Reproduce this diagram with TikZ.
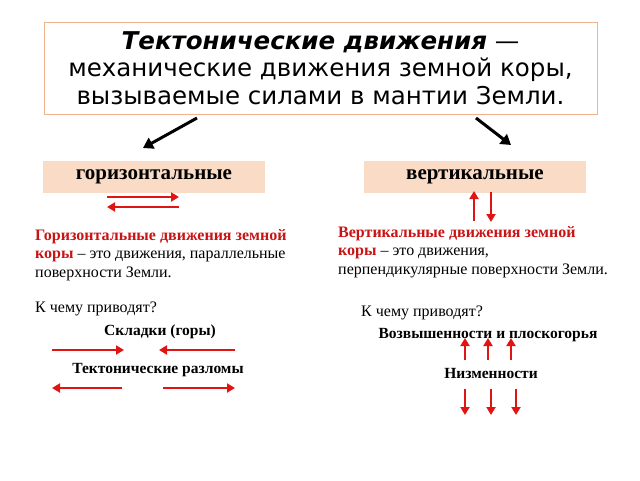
\documentclass[tikz,border=0pt]{standalone}
\usepackage{fontspec}
\setmainfont{Liberation Serif}
\newfontfamily\titlefont{DejaVu Sans}
\usetikzlibrary{positioning, arrows.meta}
\definecolor{peach}{RGB}{250,220,198}
\definecolor{frameor}{RGB}{240,180,140}
\definecolor{redarr}{RGB}{225,20,20}
\definecolor{redtext}{RGB}{200,20,20}
\begin{document}
\begin{tikzpicture}[x=1pt, y=-1pt,
	kind/.style={rectangle, fill=peach, minimum width=222pt, minimum height=32pt, font=\fontsize{21}{24}\selectfont\bfseries},
	body/.style={anchor=north west, align=left, inner sep=0pt, font=\fontsize{16}{18.5}\selectfont},
	result/.style={font=\fontsize{15.5}{18}\selectfont\bfseries},
	redarrow/.style={draw=redarr, line width=2.6pt, -{Triangle[length=8pt, width=9pt]}},
	blackarrow/.style={draw=black, line width=3pt, -{Triangle[length=10pt, width=12pt]}}]
	\useasboundingbox (0,0) rectangle (640,480);
	
	%Definition
	\node [rectangle, draw=frameor, line width=0.6pt, minimum width=553pt, minimum height=92pt, 
	align=center, font=\titlefont\fontsize{24.5}{27.5}\selectfont] (definition) at (320.5,68) 
	{\textbf{\textit{Тектонические движения}} —\\механические движения земной коры,\\вызываемые силами в мантии Земли.};
	
	%Kinds
	\node [kind] (horiz) at (154,177) {горизонтальные};
	\node [kind] (vert) at (475,177) {вертикальные};
	\coordinate (hstart) at (197,118);
	\coordinate (hend) at (143,148);
	\coordinate (vstart) at (476,118);
	\coordinate (vend) at (511,145);
	\path [blackarrow] (hstart) -- (hend);
	\path [blackarrow] (vstart) -- (vend);
	
	%Horizontal side
	\coordinate (ha) at (107,197); \coordinate (hb) at (179,197);
	\coordinate (hc) at (179,207); \coordinate (hd) at (107,207);
	\path [redarrow] (ha) -- (hb);
	\path [redarrow] (hc) -- (hd);
	\node [body] (hdef) at (35,229) {\textcolor{redtext}{\textbf{Горизонтальные движения земной}}\\
	\textcolor{redtext}{\textbf{коры}} – это движения, параллельные\\поверхности Земли.};
	\node [body] (hquest) at (35,302) {К чему приводят?};
	\node [result] (folds) at (160,332) {Складки (горы)};
	\coordinate (fa) at (52,350); \coordinate (fb) at (124,350);
	\coordinate (fc) at (235,350); \coordinate (fd) at (159,350);
	\path [redarrow] (fa) -- (fb);
	\path [redarrow] (fc) -- (fd);
	\node [result] (faults) at (158,370) {Тектонические разломы};
	\coordinate (ra) at (122,388); \coordinate (rb) at (52,388);
	\coordinate (rc) at (163,388); \coordinate (rd) at (235,388);
	\path [redarrow] (ra) -- (rb);
	\path [redarrow] (rc) -- (rd);
	
	%Vertical side
	\coordinate (va) at (474,221); \coordinate (vb) at (474,191);
	\coordinate (vc) at (491,192); \coordinate (vd) at (491,222);
	\path [redarrow] (va) -- (vb);
	\path [redarrow] (vc) -- (vd);
	\node [body] (vdef) at (338,226) {\textcolor{redtext}{\textbf{Вертикальные движения земной}}\\
	\textcolor{redtext}{\textbf{коры}} – это движения,\\перпендикулярные поверхности Земли.};
	\node [body] (vquest) at (361,306) {К чему приводят?};
	\node [result] (highs) at (488,335) {Возвышенности и плоскогорья};
	\foreach \x in {465,488,511} \path [redarrow] (\x,360) -- (\x,338);
	\node [result] (lows) at (491,373) {Низменности};
	\foreach \x in {465,491,516} \path [redarrow] (\x,389) -- (\x,415);
	
\end{tikzpicture}
\end{document}
